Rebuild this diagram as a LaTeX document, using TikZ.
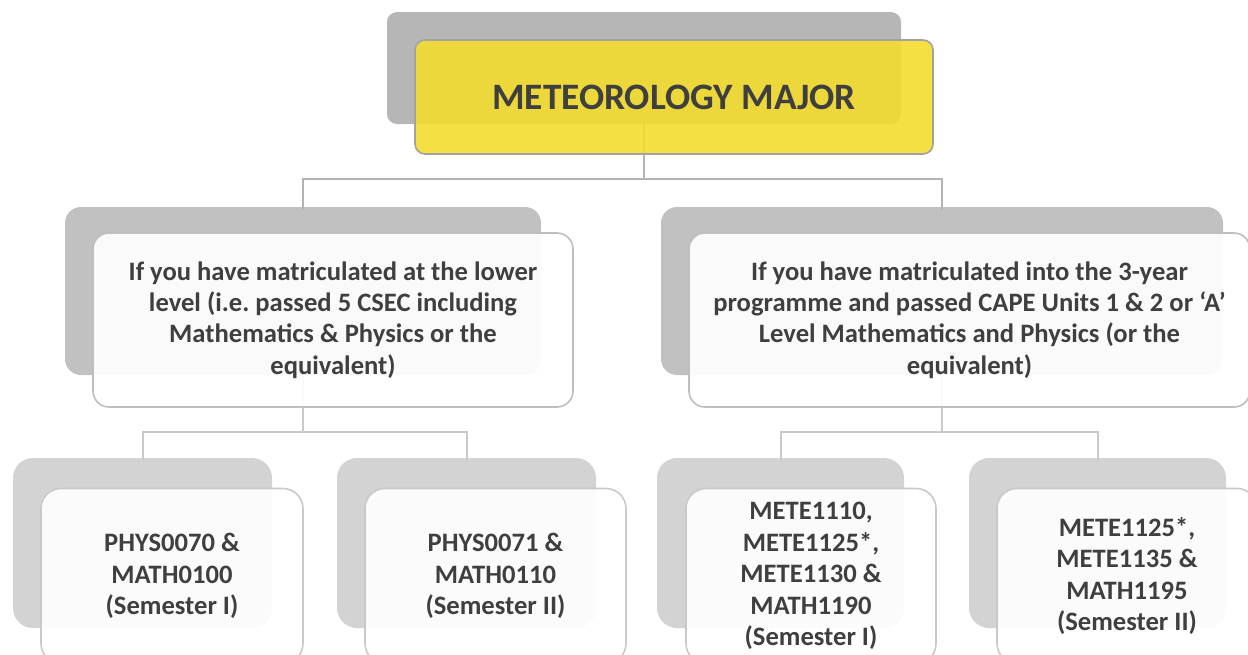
\documentclass[tikz,border=0pt]{standalone}
\usepackage{fontspec}
\setmainfont{Carlito}
\usetikzlibrary{calc}
\definecolor{txt}{HTML}{3F3F3F}
\definecolor{backA}{HTML}{B6B6B6}
\definecolor{backB}{HTML}{C1C1C1}
\definecolor{backC}{HTML}{D3D3D3}
\definecolor{yel}{HTML}{F4DC2E}
\definecolor{edgeA}{HTML}{A2A2A2}
\definecolor{edgeB}{HTML}{BEBEBE}
\definecolor{edgeC}{HTML}{C9C9C9}
\definecolor{connA}{HTML}{B3B3B3}
\definecolor{connC}{HTML}{C9C9C9}
\frenchspacing
\begin{document}
\begin{tikzpicture}[x=1pt,y=-1pt,
  backbox/.style={rectangle,inner sep=0pt,outer sep=0pt},
  frontbox/.style={rectangle,inner sep=0pt,outer sep=0pt,line width=1.6pt,fill=white,fill opacity=0.92,text opacity=1,align=center,text=txt,font=\bfseries\fontsize{26.6}{31.4}\selectfont},
  conn/.style={line width=2pt},
]
\useasboundingbox (0,0) rectangle (1248,654);
\coordinate (j1) at (0,179);
\coordinate (j2) at (0,432);
% back boxes
\node[backbox,fill=backA,rounded corners=10pt,minimum width=514pt,minimum height=112pt] (topb) at (644,68) {};
\node[backbox,fill=backB,rounded corners=16pt,minimum width=476pt,minimum height=168pt] (mlb) at (303,291) {};
\node[backbox,fill=backB,rounded corners=16pt,minimum width=562pt,minimum height=168pt] (mrb) at (942,291) {};
\node[backbox,fill=backC,rounded corners=20pt,minimum width=259pt,minimum height=170pt] (b1b) at (142.5,543) {};
\node[backbox,fill=backC,rounded corners=20pt,minimum width=259pt,minimum height=170pt] (b2b) at (466.5,543) {};
\node[backbox,fill=backC,rounded corners=20pt,minimum width=247pt,minimum height=170pt] (b3b) at (780.5,543) {};
\node[backbox,fill=backC,rounded corners=20pt,minimum width=257pt,minimum height=170pt] (b4b) at (1097.5,543) {};
% connectors
\draw[conn,connA] (topb.south) -- (topb.south |- j1) -| ([yshift=-3pt]mlb.north);
\draw[conn,connA] (topb.south |- j1) -| ([yshift=-3pt]mrb.north);
\draw[conn,connC] (mlb.south) -- (mlb.south |- j2) -| ([yshift=-3pt]b1b.north);
\draw[conn,connC] (mlb.south |- j2) -| ([yshift=-3pt]b2b.north);
\draw[conn,connC] (mrb.south) -- (mrb.south |- j2) -| ([yshift=-3pt]b3b.north);
\draw[conn,connC] (mrb.south |- j2) -| ([yshift=-3pt]b4b.north);
% front boxes
\node[frontbox,fill=yel,fill opacity=0.9,draw=edgeA,rounded corners=10pt,minimum width=518pt,minimum height=114pt,font=\bfseries\fontsize{37.3}{44}\selectfont] (topf) at (674,97) {METEOROLOGY MAJOR};
\node[frontbox,draw=edgeB,rounded corners=16pt,minimum width=480pt,minimum height=174pt] (mlf) at (333,320)
  {If you have matriculated at the lower\\level (i.e. passed 5 CSEC including\\Mathematics \& Physics or the\\equivalent)};
\node[frontbox,draw=edgeB,rounded corners=16pt,minimum width=561pt,minimum height=174pt] (mrf) at (969.5,320)
  {If you have matriculated into the 3-year\\programme and passed CAPE Units 1 \& 2 or ‘A’\\Level Mathematics and Physics (or the\\equivalent)};
\node[frontbox,draw=edgeC,rounded corners=20pt,minimum width=262pt,minimum height=175pt] (b1f) at (172,576)
  {PHYS0070 \&\\MATH0100\\(Semester I)};
\node[frontbox,draw=edgeC,rounded corners=20pt,minimum width=261pt,minimum height=175pt] (b2f) at (495.5,576)
  {PHYS0071 \&\\MATH0110\\(Semester II)};
\node[frontbox,draw=edgeC,rounded corners=20pt,minimum width=250pt,minimum height=175pt] (b3f) at (811,576)
  {METE1110,\\METE1125*,\\METE1130 \&\\MATH1190\\(Semester I)};
\node[frontbox,draw=edgeC,rounded corners=20pt,minimum width=260pt,minimum height=175pt] (b4f) at (1127,576)
  {METE1125*,\\METE1135 \&\\MATH1195\\(Semester II)};
\end{tikzpicture}
\end{document}
